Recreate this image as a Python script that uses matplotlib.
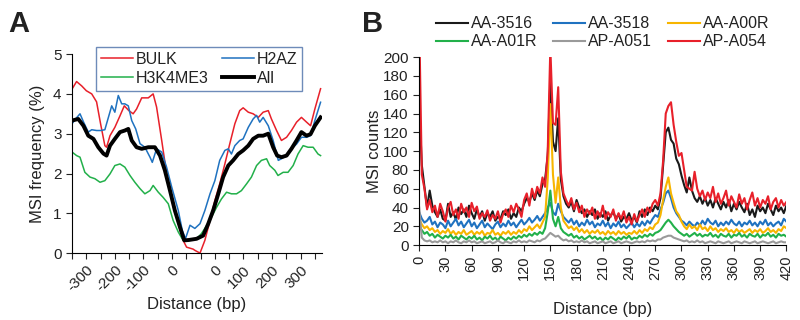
import numpy as np
import matplotlib
matplotlib.use("Agg")
import matplotlib.pyplot as plt

plt.rcParams['font.family'] = ['Liberation Sans', 'DejaVu Sans']
plt.rcParams['text.color'] = '#222222'
plt.rcParams['axes.labelcolor'] = '#222222'
plt.rcParams['xtick.color'] = '#222222'
plt.rcParams['ytick.color'] = '#222222'

# ---- Panel A data (position axis: left half -350..0, right half relabelled) ----
bulk_x = [-350, -334, -316, -300, -281, -264, -250, -235, -229, -217, -200, -182, -167, -151,
          -136, -124, -106, -83, -66, -54, -36, -19, -1, 22, 39, 51, 74, 80, 98, 115, 133, 150,
          167, 185, 202, 220, 237, 249, 267, 284, 302, 319, 337, 348, 366, 383, 401, 418, 436,
          453, 471, 485, 500, 520]
bulk_y = [4.12, 4.31, 4.2, 4.08, 4.0, 3.8, 3.25, 2.7, 2.66, 2.95, 3.16, 3.45, 3.7, 3.58,
          3.5, 3.62, 3.9, 3.9, 4.0, 3.67, 2.83, 2.0, 1.4, 0.74, 0.32, 0.15, 0.1, 0.07, 0.0, 0.32,
          0.82, 1.32, 1.74, 2.24, 2.74, 3.25, 3.58, 3.65, 3.54, 3.5, 3.41, 3.54, 3.58, 3.37, 3.08,
          2.83, 2.91, 3.08, 3.29, 3.41, 3.29, 3.2, 3.62, 4.13]

h2az_x = [-350, -334, -322, -310, -293, -281, -264, -250, -235, -223, -211, -200, -188, -176,
          -165, -153, -141, -127, -112, -95, -77, -69, -54, -36, -19, -1, 22, 36, 47, 63, 80, 98,
          115, 133, 150, 167, 185, 197, 208, 220, 237, 249, 267, 284, 296, 307, 319, 337, 354,
          372, 383, 401, 418, 436, 453, 471, 485, 500, 520]
h2az_y = [3.25, 3.4, 3.5, 3.3, 3.04, 3.1, 3.08, 3.08, 3.1, 3.4, 3.7, 3.54, 3.96, 3.75,
          3.75, 3.7, 3.33, 3.12, 2.75, 2.66, 2.41, 2.28, 2.62, 2.54, 2.16, 1.66, 1.07, 0.57, 0.36,
          0.7, 0.62, 0.74, 1.07, 1.49, 1.82, 2.33, 2.58, 2.62, 2.49, 2.7, 2.83, 2.87, 3.16, 3.37,
          3.46, 3.29, 3.41, 3.2, 2.83, 2.33, 2.37, 2.45, 2.62, 2.74, 2.91, 2.91, 2.95, 3.33, 3.79]

h3k4_x = [-350, -334, -322, -305, -287, -270, -252, -235, -217, -200, -182, -165, -147, -130,
          -112, -95, -77, -66, -48, -31, -13, 4, 22, 39, 57, 86, 103, 121, 138, 156, 173, 191,
          208, 226, 243, 261, 278, 296, 313, 331, 342, 360, 371, 389, 406, 424, 441, 459, 476,
          494, 511, 520]
h3k4_y = [2.54, 2.45, 2.41, 2.03, 1.91, 1.87, 1.78, 1.82, 1.99, 2.2, 2.24, 2.16, 1.95, 1.78,
          1.62, 1.49, 1.57, 1.7, 1.53, 1.4, 1.24, 0.82, 0.53, 0.32, 0.32, 0.36, 0.49, 0.69, 0.9,
          1.15, 1.36, 1.53, 1.49, 1.49, 1.57, 1.74, 1.91, 2.2, 2.33, 2.37, 2.2, 2.08, 1.95, 2.03,
          2.03, 2.2, 2.49, 2.7, 2.66, 2.66, 2.49, 2.45]

all_x = [-350, -328, -310, -293, -275, -258, -240, -229, -217, -200, -182, -165, -153, -141,
         -124, -106, -83, -60, -42, -25, -7, 10, 28, 43, 59, 86, 109, 127, 144, 162, 179, 197,
         214, 232, 249, 267, 284, 302, 319, 337, 354, 368, 383, 401, 418, 436, 453, 471, 485,
         500, 520]
all_y = [3.33, 3.37, 3.2, 2.95, 2.87, 2.66, 2.5, 2.45, 2.7, 2.87, 3.04, 3.08, 3.12, 2.83,
         2.66, 2.62, 2.66, 2.66, 2.45, 2.08, 1.57, 1.07, 0.65, 0.32, 0.33, 0.36, 0.44, 0.74, 1.07,
         1.49, 1.91, 2.2, 2.33, 2.49, 2.58, 2.7, 2.87, 2.95, 2.95, 3.0, 2.66, 2.45, 2.41, 2.45,
         2.62, 2.83, 3.04, 2.95, 2.99, 3.2, 3.41]

a_tick_pos = [-300, -200, -100, 0, 150, 250, 350, 450]
a_tick_lab = ['-300', '-200', '-100', '0', '0', '100', '200', '300']

# ---- Panel B data (MSI counts every 3 bp, 0..420) ----
b_x = np.arange(0, 421, 3)
aa3516 = [150, 85, 62, 40, 58, 42, 35, 30, 38, 28, 26, 44, 30, 35, 27, 40, 33, 38, 30, 42,
          34, 28, 38, 30, 36, 26, 34, 30, 36, 26, 30, 28, 36, 32, 38, 28, 34, 30, 40, 36,
          44, 50, 46, 55, 48, 58, 52, 65, 70, 95, 175, 110, 100, 135, 70, 52, 44, 40, 46, 36,
          48, 40, 34, 38, 30, 36, 32, 38, 28, 34, 30, 36, 26, 32, 35, 28, 33, 25, 30, 28,
          34, 26, 30, 24, 36, 30, 38, 32, 40, 36, 42, 38, 50, 85, 120, 125, 112, 108, 92, 86,
          74, 64, 56, 72, 58, 50, 46, 52, 44, 50, 42, 48, 40, 50, 44, 38, 46, 40, 48, 36,
          44, 38, 46, 40, 35, 44, 32, 38, 30, 42, 36, 40, 34, 44, 38, 32, 42, 36, 40, 34, 42]
aa3518 = [35, 28, 24, 26, 30, 22, 25, 19, 24, 22, 18, 26, 20, 24, 28, 21, 25, 19, 23, 27,
          20, 24, 18, 22, 26, 19, 23, 20, 17, 22, 25, 19, 23, 20, 26, 21, 24, 19, 23, 27,
          22, 25, 29, 24, 27, 31, 26, 30, 34, 40, 45, 35, 32, 44, 36, 30, 27, 24, 28, 22,
          26, 20, 24, 21, 27, 22, 25, 19, 23, 21, 26, 20, 24, 18, 23, 20, 25, 19, 22, 18,
          21, 24, 19, 23, 20, 25, 21, 26, 23, 28, 32, 30, 38, 45, 55, 58, 50, 40, 34, 30,
          26, 24, 21, 25, 22, 20, 24, 21, 26, 22, 28, 24, 22, 26, 20, 24, 21, 25, 22, 27,
          23, 21, 25, 20, 24, 22, 26, 21, 24, 20, 25, 22, 27, 21, 24, 20, 23, 25, 21, 28, 25]
aaa00r = [28, 22, 18, 20, 16, 18, 14, 16, 12, 15, 13, 17, 12, 15, 11, 14, 12, 16, 11, 13,
          15, 11, 14, 12, 15, 10, 13, 12, 16, 11, 13, 10, 14, 12, 15, 11, 14, 12, 16, 13,
          17, 15, 20, 16, 19, 22, 18, 24, 30, 70, 150, 75, 45, 72, 40, 26, 22, 18, 20, 16,
          19, 14, 17, 13, 16, 12, 15, 13, 16, 12, 14, 11, 15, 12, 14, 11, 15, 12, 14, 11,
          13, 12, 15, 12, 16, 13, 17, 15, 19, 17, 22, 24, 32, 48, 62, 72, 55, 45, 36, 32,
          25, 20, 17, 22, 18, 20, 16, 22, 17, 19, 15, 20, 16, 18, 14, 17, 15, 18, 14, 16,
          13, 17, 14, 16, 13, 15, 17, 13, 16, 14, 17, 13, 15, 18, 14, 16, 13, 17, 15, 20, 18]
aaa01r = [20, 16, 12, 14, 10, 12, 8, 11, 9, 7, 10, 8, 11, 7, 9, 6, 10, 8, 6, 9,
          7, 10, 6, 8, 5, 9, 7, 10, 6, 8, 5, 9, 7, 5, 8, 6, 9, 7, 10, 8,
          11, 9, 12, 10, 13, 11, 14, 12, 18, 35, 58, 28, 20, 30, 18, 14, 12, 10, 12, 8,
          10, 7, 9, 6, 8, 10, 7, 9, 6, 8, 5, 8, 6, 9, 7, 5, 8, 6, 9, 7,
          10, 6, 8, 7, 10, 8, 11, 9, 12, 10, 13, 14, 16, 20, 24, 27, 24, 20, 17, 14,
          12, 10, 12, 9, 11, 13, 10, 12, 9, 11, 10, 13, 9, 11, 8, 12, 10, 9, 12, 8,
          11, 10, 13, 9, 11, 8, 12, 10, 9, 12, 8, 11, 10, 13, 9, 11, 8, 12, 10, 11, 9]
apa051 = [40, 8, 5, 4, 5, 3, 4, 3, 5, 3, 4, 2, 4, 3, 5, 3, 2, 4, 3, 5,
          3, 4, 2, 3, 4, 2, 3, 4, 2, 3, 5, 3, 2, 4, 3, 2, 4, 3, 5, 3,
          4, 3, 5, 4, 3, 5, 4, 6, 7, 10, 13, 11, 9, 10, 7, 5, 6, 4, 5, 3,
          4, 3, 5, 3, 4, 2, 3, 4, 2, 3, 4, 2, 3, 4, 2, 3, 4, 2, 3, 4,
          3, 2, 3, 4, 3, 4, 3, 5, 4, 5, 4, 6, 6, 8, 9, 10, 10, 8, 7, 6,
          5, 4, 5, 3, 4, 3, 5, 3, 4, 2, 3, 4, 3, 2, 4, 3, 2, 3, 4, 2,
          3, 4, 3, 2, 4, 3, 2, 3, 4, 2, 3, 4, 3, 2, 3, 4, 2, 3, 4, 3, 3]
apa054 = [240, 75, 60, 38, 48, 35, 42, 30, 44, 36, 25, 40, 46, 32, 38, 28, 44, 35, 40, 30,
          45, 36, 41, 28, 34, 30, 37, 26, 32, 28, 36, 24, 33, 38, 30, 42, 35, 44, 38, 30,
          48, 55, 42, 60, 50, 62, 55, 72, 62, 100, 210, 130, 128, 168, 78, 55, 48, 42, 50, 38,
          45, 35, 42, 30, 38, 33, 40, 28, 36, 30, 42, 28, 35, 30, 38, 26, 34, 28, 36, 24,
          30, 22, 33, 25, 32, 38, 30, 40, 35, 44, 48, 42, 55, 90, 140, 148, 152, 128, 110, 95,
          98, 80, 62, 60, 58, 78, 60, 52, 58, 48, 56, 50, 62, 46, 55, 44, 50, 58, 42, 52,
          46, 40, 54, 44, 50, 38, 48, 56, 42, 50, 40, 48, 44, 52, 38, 46, 50, 40, 48, 42, 46]

b_names = ['AA-3516', 'AA-3518', 'AA-A00R', 'AA-A01R', 'AP-A051', 'AP-A054']
b_series = [aa3516, aa3518, aaa00r, aaa01r, apa051, apa054]
b_colors = ['#1a1a1a', '#1f72c0', '#f7b500', '#22b04a', '#9a9a9a', '#e8202a']

fig = plt.figure(figsize=(8, 3.2), dpi=100)

# ---------------- Panel A ----------------
axA = fig.add_axes([0.09, 0.209, 0.3125, 0.622])
l_bulk, = axA.plot(bulk_x, bulk_y, color='#e8202a', lw=1.1, label='BULK')
l_h2az, = axA.plot(h2az_x, h2az_y, color='#1f72c0', lw=1.1, label='H2AZ')
l_h3k4, = axA.plot(h3k4_x, h3k4_y, color='#22b04a', lw=1.1, label='H3K4ME3')
l_all, = axA.plot(all_x, all_y, color='black', lw=2.8, label='All')
axA.set_xlim(-350, 525)
axA.set_ylim(0, 5)
axA.set_xticks(np.arange(-350, 501, 50), minor=True)
axA.set_xticks(a_tick_pos)
axA.set_xticklabels(a_tick_lab, rotation=45, ha='right', va='top', rotation_mode='anchor')
axA.set_yticks([0, 1, 2, 3, 4, 5])
axA.tick_params(axis='both', which='both', direction='out', labelsize=11, length=4, width=0.8)
axA.tick_params(axis='x', which='major', pad=3)
axA.spines['top'].set_visible(False)
axA.spines['right'].set_visible(False)
axA.set_xlabel('Distance (bp)', fontsize=12, labelpad=2)
axA.set_ylabel('MSI frequency (%)', fontsize=12, labelpad=6)
# column-major order so rows read BULK, H2AZ / H3K4ME3, All
leg = axA.legend([l_bulk, l_h3k4, l_h2az, l_all], ['BULK', 'H3K4ME3', 'H2AZ', 'All'],
                 ncol=2, loc='upper left', bbox_to_anchor=(0.064, 1.075), fontsize=11.5,
                 frameon=True, fancybox=False, handlelength=2.0, handletextpad=0.2,
                 columnspacing=0.8, labelspacing=0.25, borderpad=0.3)
leg.get_frame().set_edgecolor('#4a6ea8')
leg.get_frame().set_linewidth(1.0)
fig.text(0.01, 0.97, 'A', fontsize=21, fontweight='bold', va='top')

# ---------------- Panel B ----------------
axB = fig.add_axes([0.524, 0.234, 0.459, 0.5875])
lines_b = []
for name, vals, col in zip(b_names, b_series, b_colors):
    ln, = axB.plot(b_x, vals, color=col, lw=1.5, label=name)
    lines_b.append(ln)
axB.set_xlim(0, 420)
axB.set_ylim(0, 200)
axB.set_xticks(np.arange(0, 421, 30))
axB.set_xticklabels([str(v) for v in range(0, 421, 30)], rotation=90)
axB.set_yticks(np.arange(0, 201, 20))
axB.tick_params(axis='both', direction='out', labelsize=11, length=4, width=0.8)
axB.tick_params(axis='x', labelsize=10.5)
axB.spines['top'].set_visible(False)
axB.spines['right'].set_visible(False)
axB.set_xlabel('Distance (bp)', fontsize=12, labelpad=16)
axB.set_ylabel('MSI counts', fontsize=12, labelpad=1)
order = [0, 3, 1, 4, 2, 5]
axB.legend([lines_b[i] for i in order], [b_names[i] for i in order],
           ncol=3, loc='lower center', bbox_to_anchor=(0.5, 0.99), fontsize=11.5,
           frameon=False, handlelength=2.0, handletextpad=0.2, columnspacing=1.0,
           labelspacing=0.2, borderpad=0.1)
fig.text(0.452, 0.97, 'B', fontsize=21, fontweight='bold', va='top')

fig.savefig('out.png', dpi=100)
